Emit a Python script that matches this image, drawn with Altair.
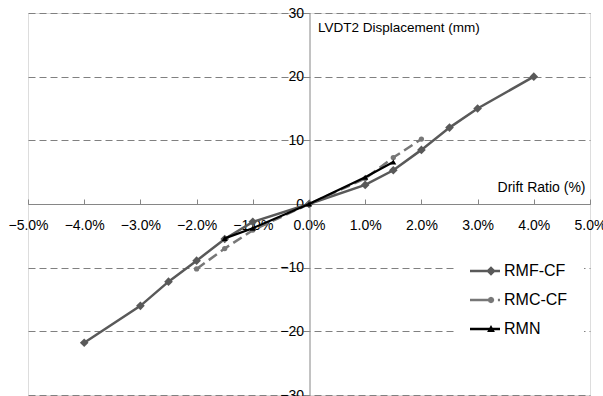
import altair as alt
import pandas as pd

# ---- data ----
series_names = ["RMF-CF", "RMC-CF", "RMN"]
rmf_drift = [-4.0, -3.0, -2.5, -2.0, -1.5, -1.0, 0.0, 1.0, 1.5, 2.0, 2.5, 3.0, 4.0]
rmf_disp = [-21.8, -16.0, -12.2, -8.9, -5.5, -2.8, 0.0, 3.0, 5.3, 8.5, 12.0, 15.0, 20.0]
rmc_drift = [-2.0, -1.5, -1.0, 0.0, 1.0, 1.5, 2.0]
rmc_disp = [-10.2, -7.0, -4.1, 0.0, 4.0, 7.3, 10.2]
rmn_drift = [-1.5, -1.0, 0.0, 1.0, 1.5]
rmn_disp = [-5.4, -3.8, 0.0, 4.2, 6.6]
x_ticks = [-5, -4, -3, -2, -1, 0, 1, 2, 3, 4, 5]
y_ticks = [-30, -20, -10, 0, 10, 20, 30]

colors = ["#595959", "#777777", "#000000"]

rows = []
for name, xs, ys in [("RMF-CF", rmf_drift, rmf_disp),
                     ("RMC-CF", rmc_drift, rmc_disp),
                     ("RMN", rmn_drift, rmn_disp)]:
    for i, (a, b) in enumerate(zip(xs, ys)):
        rows.append({"series": name, "drift": a / 100.0, "disp": b, "idx": i})
df = pd.DataFrame(rows)

W, H = 562, 382
FONT = "Liberation Sans"
AX = "#868686"

x_enc = alt.X(
    "drift:Q",
    scale=alt.Scale(domain=[-0.05, 0.05], nice=False, zero=False),
    axis=alt.Axis(
        orient="top", offset=-H / 2, values=[v / 100 for v in x_ticks], format=".1%",
        grid=False, domainColor=AX, tickColor=AX, tickSize=5, ticks=True,
        labelBaseline="top", labelPadding=-19, labelFontSize=14, labelColor="#000",
        labelFont=FONT, labelOverlap=False, labelFlush=False,
        title="Drift Ratio (%)", titleX=W - 5, titleY=-17, titleAlign="right",
        titleBaseline="middle", titleFontWeight="normal", titleFontSize=14,
        titleFont=FONT, titleColor="#000", titleAngle=0,
    ),
)
y_enc = alt.Y(
    "disp:Q",
    scale=alt.Scale(domain=[-30, 30], nice=False, zero=False),
    axis=alt.Axis(
        orient="left", offset=-W / 2 - 0.5, values=y_ticks, format="d",
        grid=True, gridColor="#808080", gridDash=[7, 4], gridWidth=1,
        domainColor=AX, tickColor=AX, tickSize=4, labelPadding=2,
        labelFontSize=14, labelColor="#000", labelFont=FONT, labelOverlap=False,
        labelFlush=False,
        title="LVDT2 Displacement (mm)", titleX=8, titleY=14, titleAngle=0,
        titleAlign="left", titleBaseline="middle", titleFontWeight="normal",
        titleFontSize=13.5, titleFont=FONT, titleColor="#000",
    ),
)

base = alt.Chart(df).encode(x=x_enc, y=y_enc, order="idx:Q")

styles = {
    "RMF-CF": dict(color=colors[0], width=2.5, dash=None, shape="diamond", size=75),
    "RMC-CF": dict(color=colors[1], width=2.5, dash=[10, 5], shape="circle", size=28),
    "RMN": dict(color=colors[2], width=2.2, dash=None, shape="triangle-up", size=36),
}

layers = []
for name in series_names:
    s = styles[name]
    sub = base.transform_filter(alt.datum.series == name)
    if s["dash"]:
        ln = sub.mark_line(color=s["color"], strokeWidth=s["width"], strokeDash=s["dash"])
    else:
        ln = sub.mark_line(color=s["color"], strokeWidth=s["width"])
    pt = sub.mark_point(filled=True, shape=s["shape"], size=s["size"], color=s["color"], opacity=1)
    layers += [ln, pt]

# legend symbols: line + marker drawn as custom paths
oct_pts = "M0.62,0L0.556,0.156L0.4,0.22L0.244,0.156L0.18,0L0.244,-0.156L0.4,-0.22L0.556,-0.156Z"
legend_paths = [
    "M-1,-0.085H1V0.085H-1Z M0.4,-0.32L0.72,0L0.4,0.32L0.08,0Z",
    "M-1,-0.085H0.22V0.085H-1Z " + oct_pts + " M0.86,-0.085H1V0.085H0.86Z",
    "M-1,-0.085H1V0.085H-1Z M0.4,-0.26L0.66,0.2L0.14,0.2Z",
]
leg = alt.Legend(
    title=None, orient="none", legendX=426, legendY=227, symbolSize=900,
    symbolStrokeWidth=0, labelFontSize=16, labelFont=FONT, labelColor="#000",
    labelOffset=4, rowPadding=6, padding=16, fillColor="white", symbolOpacity=1,
)
legend_layer = alt.Chart(df).transform_filter("datum.disp > 1000").mark_point(
    filled=True, opacity=1
).encode(
    x=x_enc, y=y_enc,
    color=alt.Color("series:N", scale=alt.Scale(domain=series_names, range=colors), legend=leg, sort=series_names),
    shape=alt.Shape("series:N", scale=alt.Scale(domain=series_names, range=legend_paths), legend=leg, sort=series_names),
)
layers.append(legend_layer)

chart = alt.layer(*layers).properties(
    width=W, height=H,
    autosize=alt.AutoSizeParams(type="none"),
    padding={"left": 28, "top": 13, "right": 13, "bottom": 1},
).configure_view(stroke=AX, strokeWidth=1).configure(background="white")

chart.save("out.html", embed_options={"renderer": "svg", "actions": False})
